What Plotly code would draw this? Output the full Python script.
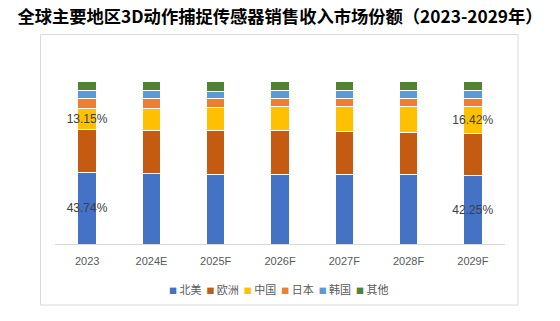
import plotly.graph_objects as go

years = ["2023", "2024E", "2025F", "2026F", "2027F", "2028F", "2029F"]
series_names = ["北美", "欧洲", "中国", "日本", "韩国", "其他"]
north_america = [43.74, 43.5, 42.9, 42.8, 42.7, 42.4, 42.25]
europe = [26.5, 26.3, 26.7, 26.6, 26.2, 26.0, 25.5]
china = [13.15, 13.6, 14.3, 15.1, 15.6, 16.1, 16.42]
japan = [5.6, 5.7, 5.4, 4.8, 4.8, 4.8, 4.9]
korea = [5.2, 5.0, 4.4, 5.0, 5.0, 5.0, 5.2]
others = [5.81, 5.9, 6.3, 5.7, 5.7, 5.7, 5.73]
labelled_series = {"北美", "中国"}
title_text = "全球主要地区3D动作捕捉传感器销售收入市场份额（2023-2029年）"

colors = ["#4472C4", "#C55A11", "#FFC000", "#ED7D31", "#5B9BD5", "#548235"]
values = [north_america, europe, china, japan, korea, others]

W, H = 560, 321
ML, MR, MT, MB = 55, 55, 81, 77
plot_h = H - MT - MB
plot_w = W - ML - MR

def py(px):  # pixel y -> paper y
    return (H - MB - px) / plot_h

def pxx(px):  # pixel x -> paper x
    return (px - ML) / plot_w

fig = go.Figure()
for name, vals, col in zip(series_names, values, colors):
    if name in labelled_series:
        txt = [f"{v:.2f}%" if i in (0, len(vals) - 1) else "" for i, v in enumerate(vals)]
    else:
        txt = None
    fig.add_trace(go.Bar(
        x=years, y=vals, name=name,
        marker=dict(color=col, line=dict(color="white", width=1)),
        text=txt, textposition="inside", insidetextanchor="middle",
        textangle=0, constraintext="none",
        textfont=dict(family="Liberation Sans, Arial", size=12, color="#404040"),
        showlegend=False, hoverinfo="skip",
    ))

legend_parts = []
for name, col in zip(series_names, colors):
    legend_parts.append(
        f"<span style='color:{col};font-size:8px'>■</span> {name}"
    )
legend_text = "  ".join(legend_parts)

fig.update_layout(
    width=W, height=H,
    barmode="stack", bargap=0.715,
    margin=dict(l=ML, r=MR, t=MT, b=MB, pad=0),
    paper_bgcolor="white", plot_bgcolor="white",
    font=dict(family="Noto Sans CJK SC, Liberation Sans", color="#595959"),
    title=dict(
        text=title_text, x=0.5, xanchor="center", xref="container",
        y=1 - 17 / H, yanchor="middle", yref="container",
        font=dict(family="Noto Sans CJK SC", size=17.3, color="#000000", weight="bold"),
    ),
    xaxis=dict(
        showline=True, linecolor="#D9D9D9", linewidth=1,
        showgrid=False, ticks="", zeroline=False, ticklabelstandoff=7,
        tickfont=dict(family="Liberation Sans, Arial", size=11, color="#595959"),
    ),
    yaxis=dict(range=[0, 100], visible=False, showgrid=False, zeroline=False),
    shapes=[dict(
        type="rect", xref="paper", yref="paper",
        x0=pxx(40.5), x1=pxx(518), y0=py(305), y1=py(34.5),
        line=dict(color="#D9D9D9", width=1), fillcolor="rgba(0,0,0,0)", layer="below",
    )],
    annotations=[dict(
        text=legend_text, xref="paper", yref="paper",
        x=pxx(279), y=py(289), xanchor="center", yanchor="middle",
        showarrow=False,
        font=dict(family="Noto Sans CJK SC", size=11, color="#595959"),
    )],
)

fig.write_html("out.html")
